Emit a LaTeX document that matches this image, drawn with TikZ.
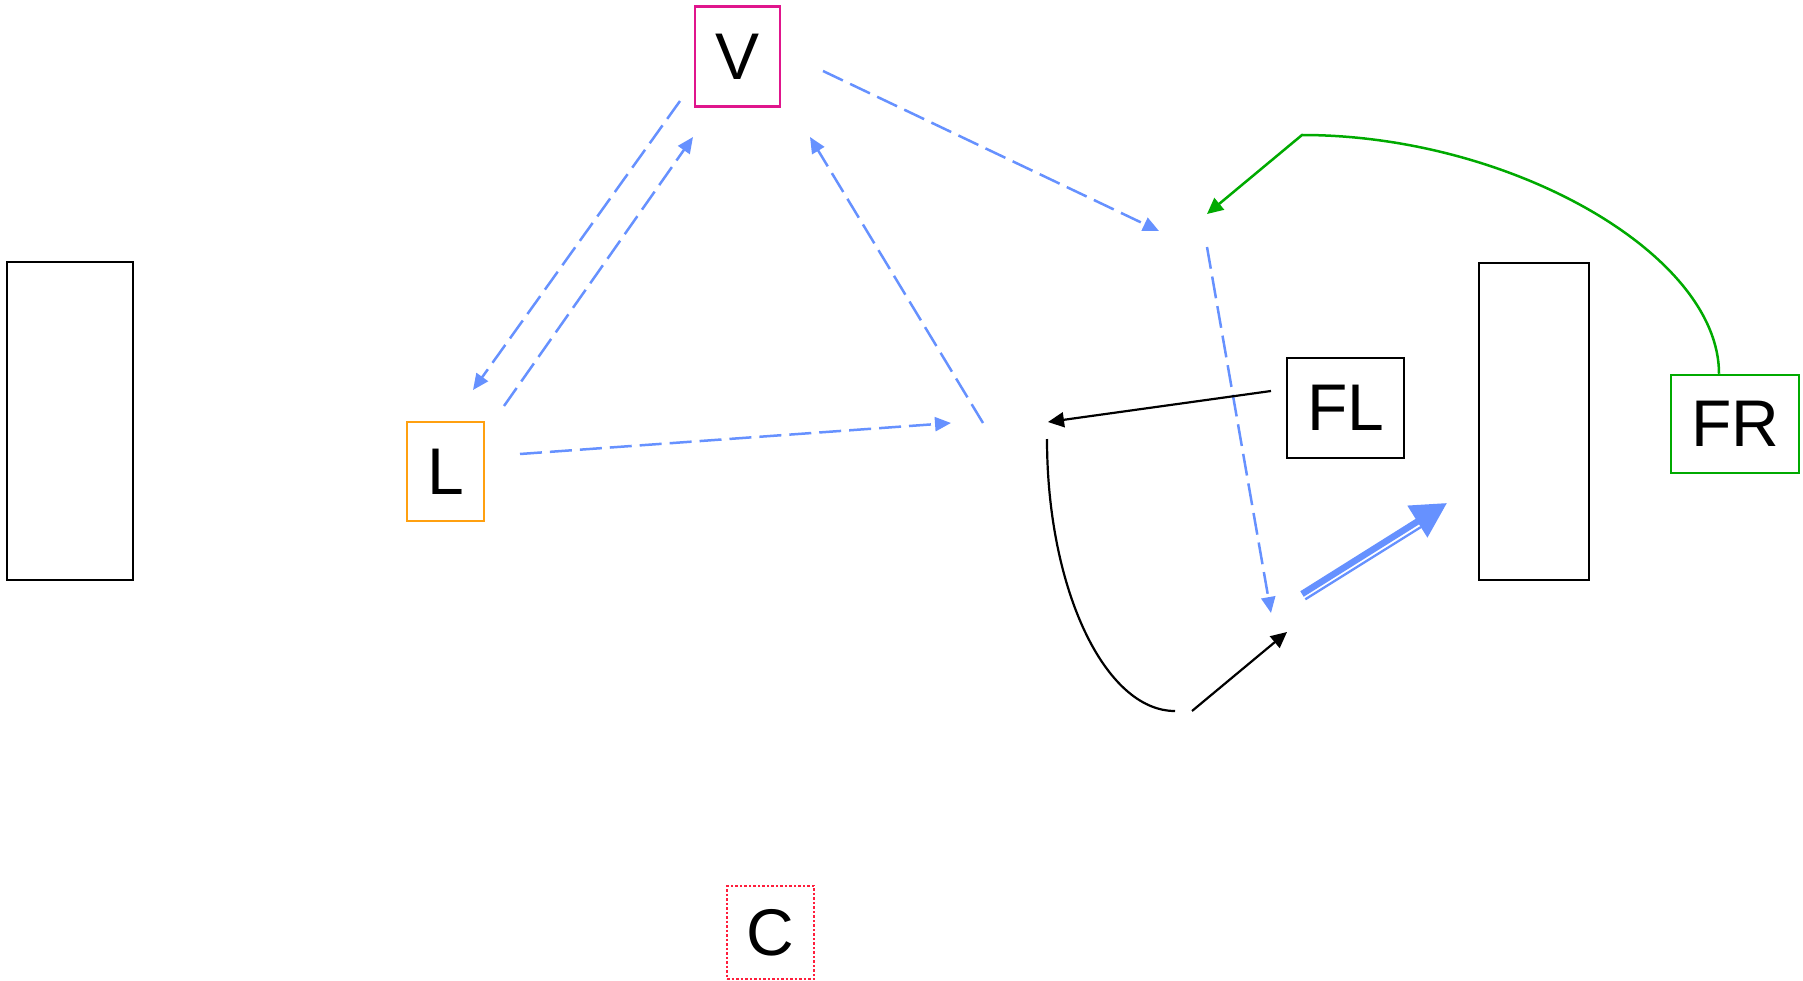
\documentclass[tikz,border=0pt]{standalone}
\usepackage{fontspec}
\setmainfont{Liberation Sans}
\usetikzlibrary{arrows.meta}
\definecolor{eblue}{HTML}{6691FF}
\definecolor{egreen}{HTML}{00AA00}
\definecolor{vmag}{HTML}{E0158C}
\definecolor{lorange}{HTML}{FFA010}
\definecolor{cred}{HTML}{FF1E3C}
\begin{document}
\begin{tikzpicture}[x=1pt,y=-1pt,
  box/.style={draw,line width=2.5pt,rectangle,inner sep=0pt,font=\fontsize{66}{78}\selectfont},
  bluedash/.style={draw=eblue,line width=2.5pt,dash pattern=on 22pt off 8pt,-{Triangle[length=16pt,width=14pt]},eblue},
  blackarr/.style={draw=black,line width=2.2pt,-{Triangle[length=16pt,width=15pt]}},
  greenarr/.style={draw=egreen,line width=2.5pt,-{Triangle[length=16pt,width=15pt]}}]
\useasboundingbox (0,0) rectangle (1803,981);
% boxes
\node[box,minimum width=126pt,minimum height=318pt] (LR) at (70,421) {};
\node[box,minimum width=110pt,minimum height=317pt] (RR) at (1534,421.5) {};
\node[box,draw=vmag,minimum width=85pt,minimum height=100pt] (V) at (737.5,56.5) {V};
\node[box,draw=lorange,minimum width=77pt,minimum height=99pt] (L) at (445.5,471.5) {L};
\node[box,minimum width=117pt,minimum height=100pt] (FL) at (1345.5,408) {FL};
\node[box,draw=egreen,minimum width=128pt,minimum height=98pt] (FR) at (1735,424) {FR};
\node[box,draw=cred,dash pattern=on 2.5pt off 2pt,minimum width=87pt,minimum height=93pt] (C) at (770.5,932.5) {C};
% connector end points
\coordinate (a1s) at (680,101);
\coordinate (a1e) at (473,390);
\coordinate (a2s) at (504,406);
\coordinate (a2e) at (693,137);
\coordinate (a3s) at (520,454);
\coordinate (a3e) at (951,423);
\coordinate (a4s) at (983,423);
\coordinate (a4e) at (810,137);
\coordinate (a5s) at (823,71);
\coordinate (a5e) at (1159,231);
\coordinate (a6s) at (1207,247);
\coordinate (a6e) at (1271,613);
\coordinate (a7s) at (1271,391);
\coordinate (a7e) at (1048,422);
\coordinate (c8s) at (1047,439);
\coordinate (c8e) at (1175,711);
\coordinate (a9s) at (1192,711);
\coordinate (a9e) at (1287,632);
\coordinate (dbs) at (1302,594);
\coordinate (dbe) at (1447,503);
\coordinate (dts) at (1305.3,599.3);
\coordinate (dte) at (1421,527);
\coordinate (gk) at (1302,135);
\coordinate (ge) at (1207,214);
% blue dashed connectors
\draw[bluedash] (a1s) -- (a1e);
\draw[bluedash] (a2s) -- (a2e);
\draw[bluedash] (a3s) -- (a3e);
\draw[bluedash] (a4s) -- (a4e);
\draw[bluedash] (a5s) -- (a5e);
\draw[bluedash] (a6s) -- (a6e);
% black connectors
\draw[blackarr] (a7s) -- (a7e);
\draw[line width=2.2pt] (c8s) .. controls (1047,589) and (1105,711) .. (c8e);
\draw[blackarr] (a9s) -- (a9e);
% double blue arrow
\draw[eblue,line width=2.3pt] (dts) -- (dte);
\draw[eblue,line width=6.5pt,-{Triangle[length=35pt,width=36pt]}] (dbs) -- (dbe);
% green connector
\draw[greenarr] (FR.north -| 1719,0) .. controls (1719,254) and (1510,135) .. (gk) -- (ge);
\end{tikzpicture}
\end{document}
